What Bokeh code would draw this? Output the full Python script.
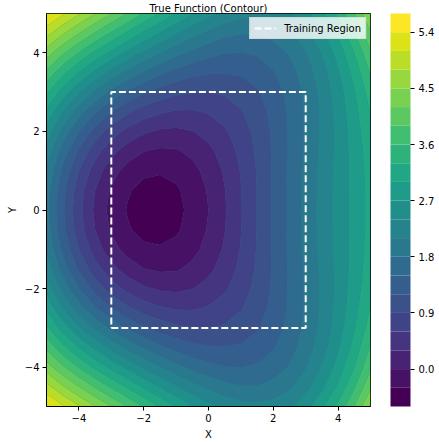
import numpy as np
from bokeh.plotting import figure
from bokeh.models import Range1d, FixedTicker, PrintfTickFormatter
from bokeh.palettes import viridis
from bokeh.embed import file_html
from bokeh.resources import INLINE

# grid coordinates
x_vals = [-5.0, -4.5, -4.0, -3.5, -3.0, -2.5, -2.0, -1.5, -1.0, -0.5, 0.0,
          0.5, 1.0, 1.5, 2.0, 2.5, 3.0, 3.5, 4.0, 4.5, 5.0]
y_vals = [-5.0, -4.5, -4.0, -3.5, -3.0, -2.5, -2.0, -1.5, -1.0, -0.5, 0.0,
          0.5, 1.0, 1.5, 2.0, 2.5, 3.0, 3.5, 4.0, 4.5, 5.0]

# function values, one row per |y| (the surface is symmetric in y)
z_y00 = [1.90, 1.25, 0.69, 0.24, -0.10, -0.32, -0.44, -0.46, -0.38, -0.22, 0.00, 0.27, 0.58, 0.91, 1.24, 1.57, 1.90, 2.21, 2.51, 2.80, 3.10]
z_y05 = [1.95, 1.30, 0.74, 0.30, -0.04, -0.27, -0.39, -0.41, -0.34, -0.19, 0.03, 0.29, 0.59, 0.91, 1.24, 1.57, 1.89, 2.20, 2.51, 2.80, 3.10]
z_y10 = [2.07, 1.44, 0.90, 0.46, 0.12, -0.11, -0.24, -0.27, -0.22, -0.09, 0.10, 0.34, 0.62, 0.92, 1.24, 1.56, 1.88, 2.19, 2.50, 2.81, 3.13]
z_y15 = [2.29, 1.68, 1.16, 0.73, 0.40, 0.16, 0.01, -0.05, -0.03, 0.07, 0.23, 0.43, 0.68, 0.95, 1.24, 1.54, 1.85, 2.17, 2.49, 2.82, 3.16]
z_y20 = [2.58, 2.00, 1.51, 1.09, 0.76, 0.51, 0.35, 0.26, 0.24, 0.29, 0.40, 0.56, 0.76, 0.99, 1.25, 1.54, 1.84, 2.16, 2.49, 2.85, 3.22]
z_y25 = [2.94, 2.40, 1.94, 1.54, 1.21, 0.95, 0.76, 0.64, 0.57, 0.57, 0.63, 0.73, 0.88, 1.06, 1.29, 1.55, 1.84, 2.16, 2.51, 2.90, 3.31]
z_y30 = [3.36, 2.87, 2.44, 2.06, 1.73, 1.46, 1.24, 1.08, 0.97, 0.91, 0.90, 0.94, 1.03, 1.17, 1.36, 1.59, 1.87, 2.19, 2.56, 2.98, 3.44]
z_y35 = [3.83, 3.39, 2.99, 2.63, 2.30, 2.02, 1.78, 1.57, 1.41, 1.29, 1.23, 1.21, 1.24, 1.33, 1.48, 1.68, 1.95, 2.27, 2.66, 3.11, 3.62]
z_y40 = [4.35, 3.95, 3.58, 3.23, 2.92, 2.62, 2.35, 2.11, 1.90, 1.73, 1.60, 1.52, 1.50, 1.54, 1.65, 1.83, 2.08, 2.42, 2.82, 3.30, 3.85]
z_y45 = [4.90, 4.54, 4.20, 3.87, 3.55, 3.25, 2.95, 2.68, 2.43, 2.21, 2.03, 1.89, 1.82, 1.82, 1.90, 2.05, 2.30, 2.63, 3.05, 3.56, 4.15]
z_y50 = [5.48, 5.15, 4.83, 4.51, 4.20, 3.89, 3.57, 3.27, 2.98, 2.72, 2.50, 2.33, 2.22, 2.18, 2.23, 2.36, 2.60, 2.94, 3.37, 3.90, 4.52]

z_rows = [z_y50, z_y45, z_y40, z_y35, z_y30, z_y25, z_y20, z_y15, z_y10, z_y05,
          z_y00,
          z_y05, z_y10, z_y15, z_y20, z_y25, z_y30, z_y35, z_y40, z_y45, z_y50]

levels = [-0.6, -0.3, 0.0, 0.3, 0.6, 0.9, 1.2, 1.5, 1.8, 2.1, 2.4, 2.7, 3.0,
          3.3, 3.6, 3.9, 4.2, 4.5, 4.8, 5.1, 5.4, 5.7]
cbar_ticks = [0.0, 0.9, 1.8, 2.7, 3.6, 4.5, 5.4]
x_ticks = [-4, -2, 0, 2, 4]
y_ticks = [-4, -2, 0, 2, 4]
tick_text = {-4: "\u22124", -2: "\u22122", 0: "0", 2: "2", 4: "4"}
train_lo = -3.0
train_hi = 3.0
title_text = "True Function (Contour)"
legend_text = "Training Region"

FONT = "DejaVu Sans"

p = figure(width=439, height=442, x_range=Range1d(-5, 5), y_range=Range1d(-5, 5),
           output_backend="svg", toolbar_location=None,
           min_border_left=46, min_border_right=69, min_border_top=7, min_border_bottom=30)
p.grid.visible = False
p.outline_line_color = "black"
p.outline_line_width = 1
p.background_fill_color = "#2a788e"

p.title.text = title_text
p.title.align = "center"
p.title.text_font = FONT
p.title.text_font_size = "10px"
p.title.text_font_style = "normal"
p.title.text_color = "black"
p.title.standoff = 0

cr = p.contour(x_vals, y_vals, np.array(z_rows), levels,
               fill_color=viridis(len(levels) - 1), line_color=None)

rx = [train_lo, train_hi, train_hi, train_lo, train_lo]
ry = [train_lo, train_lo, train_hi, train_hi, train_lo]
p.line(rx, ry, line_color="white", line_width=2, line_dash="7 3", legend_label=legend_text)

for ax, ticks, lab in ((p.xaxis, x_ticks, "X"), (p.yaxis, y_ticks, "Y")):
    ax.ticker = FixedTicker(ticks=ticks)
    ax.major_label_overrides = tick_text
    ax.axis_label = lab
    ax.axis_label_text_font = FONT
    ax.axis_label_text_font_size = "10px"
    ax.axis_label_text_font_style = "normal"
    ax.axis_label_text_color = "black"
    ax.axis_label_standoff = 4
    ax.major_label_text_font = FONT
    ax.major_label_text_font_size = "10px"
    ax.major_label_text_color = "black"
    ax.major_tick_in = 0
    ax.major_tick_out = 4
    ax.minor_tick_out = 0
    ax.minor_tick_in = 0
    ax.major_label_standoff = 3
    ax.axis_line_color = "black"
    ax.major_tick_line_color = "black"

cbar = cr.construct_color_bar(
    width=20, padding=0, margin=0, location=(20, 0),
    major_label_text_font=FONT, major_label_text_font_size="10px",
    major_label_text_color="black",
    major_tick_in=0, major_tick_out=4, major_tick_line_color="black",
    bar_line_color="black", label_standoff=4,
)
cbar.ticker = FixedTicker(ticks=cbar_ticks)
cbar.formatter = PrintfTickFormatter(format="%.1f")
p.add_layout(cbar, "right")

p.legend.location = "top_right"
p.legend.margin = 4
p.legend.padding = 4
p.legend.label_text_font = FONT
p.legend.label_text_font_size = "10px"
p.legend.label_text_color = "black"
p.legend.glyph_width = 22
p.legend.glyph_height = 12
p.legend.label_height = 12
p.legend.label_standoff = 8
p.legend.border_line_color = "#cccccc"
p.legend.background_fill_alpha = 0.8

open("out.html", "w").write(file_html(p, INLINE))
